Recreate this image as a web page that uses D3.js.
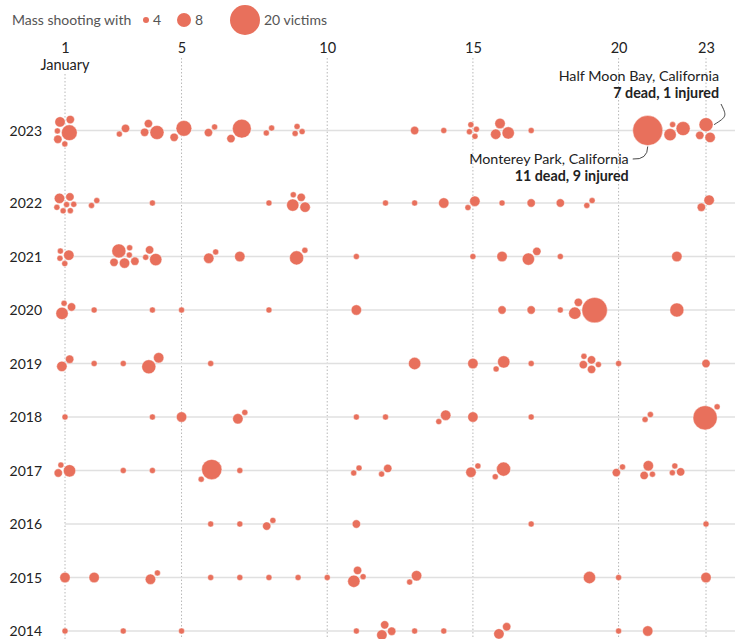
<!DOCTYPE html>
<html>
<head>
<meta charset="utf-8">
<script src="https://cdn.jsdelivr.net/npm/d3@7"></script>
<style>
body { margin: 0; background: #fff; }
svg { display: block; font-family: Lato, "Noto Sans", sans-serif; }
</style>
</head>
<body>
<div class="chart"></div>
<script>
// rows, top to bottom
const years = [2023, 2022, 2021, 2020, 2019, 2018, 2017, 2016, 2015, 2014];
const dayTicks = [1, 5, 10, 15, 20, 23];
const legendValues = [4, 8, 20];

// [day of January, victims]
const shootings2023 = [[1,9],[1,5],[1,4],[1,4],[1,6],[1,5],[3,5],[3,4],[4,8],[4,5],[4,5],[5,9],[5,5],
  [6,4],[6,5],[7,11],[7,5],[8,4],[8,4],[9,4],[9,4],[9,4],[13,5],[14,4],[15,4],[15,4],[15,4],[15,4],
  [16,7],[16,6],[16,6],[17,4],[21,20],[22,8],[22,7],[22,4],[23,6],[23,5],[23,8]];
const shootings2022 = [[1,4],[1,4],[1,5],[1,4],[1,6],[1,4],[1,4],[2,4],[2,4],[4,4],[8,4],[9,5],[9,7],
  [9,4],[9,6],[12,4],[13,4],[14,6],[15,6],[15,4],[16,4],[17,5],[18,5],[19,4],[19,4],[23,6],[23,5]];
const shootings2021 = [[1,6],[1,4],[1,4],[1,4],[3,8],[3,4],[3,4],[3,6],[3,5],[3,5],[4,7],[4,4],[4,5],
  [6,4],[6,6],[7,6],[9,4],[9,8],[11,4],[15,4],[16,6],[17,5],[17,7],[18,4],[22,6]];
const shootings2020 = [[1,5],[1,7],[1,4],[2,4],[4,4],[5,4],[8,4],[11,6],[16,5],[17,5],[18,4],
  [19,16],[19,7],[19,5],[22,8]];
const shootings2019 = [[1,5],[1,6],[2,4],[3,4],[4,6],[4,8],[6,4],[13,7],[15,6],[16,7],[16,4],[17,4],
  [19,4],[19,5],[19,5],[19,5],[19,4],[20,4],[23,5]];
const shootings2018 = [[1,4],[4,4],[5,6],[7,4],[7,6],[11,4],[12,4],[14,6],[14,4],[15,6],[17,4],
  [21,4],[21,4],[23,4],[23,15]];
const shootings2017 = [[1,7],[1,5],[1,4],[3,4],[4,4],[6,12],[6,4],[7,4],[11,4],[11,4],[12,5],[12,4],
  [15,4],[15,6],[16,8],[16,4],[20,4],[20,5],[21,4],[21,5],[21,6],[22,5],[22,4],[22,4]];
const shootings2016 = [[6,4],[7,4],[8,4],[8,5],[11,5],[17,4],[23,4]];
const shootings2015 = [[1,6],[2,6],[4,4],[4,6],[6,4],[7,4],[8,4],[9,4],[10,4],[11,4],[11,7],[11,5],
  [13,6],[13,4],[19,7],[20,4],[23,6]];
const shootings2014 = [[1,4],[3,4],[5,4],[11,4],[12,5],[12,6],[12,5],[13,4],[14,4],[16,5],[16,6],
  [20,4],[21,6]];

const shootingLists = [shootings2023, shootings2022, shootings2021, shootings2020, shootings2019,
  shootings2018, shootings2017, shootings2016, shootings2015, shootings2014];

const width = 752;
const height = 639;
const dotColor = "#e8705c";
const annotationGap = 19; // extra room above 2023 for the notes

const svg = d3.select(".chart")
  .append("svg")
  .attr("width", width)
  .attr("height", height);

const x = d3.scaleLinear().domain([1, 23]).range([65, 706]);
const y = d3.scaleLinear().domain([2022, 2014]).range([203, 631]);
const yRow = yr => y(yr) - (yr === 2023 ? annotationGap : 0);
const r = d3.scaleSqrt().domain([4, 20]).range([3, 15]);

// legend
svg.append("text")
  .attr("x", 12).attr("y", 25)
  .attr("font-size", 14).attr("fill", "#555")
  .text("Mass shooting with");
const legendX = [146, 184, 245];
const legendLabel = ["4", "8", "20 victims"];
legendValues.forEach((v, i) => {
  svg.append("circle")
    .attr("cx", legendX[i]).attr("cy", 20).attr("r", r(v))
    .attr("fill", dotColor);
  svg.append("text")
    .attr("x", legendX[i] + r(v) + 4).attr("y", 25)
    .attr("font-size", 14).attr("fill", "#555")
    .text(legendLabel[i]);
});

// vertical dotted day lines
svg.selectAll(".vline")
  .data(dayTicks)
  .enter()
  .append("line")
  .attr("class", "vline")
  .attr("x1", d => x(d)).attr("x2", d => x(d))
  .attr("y1", d => d === 1 ? 74 : 58)
  .attr("y2", height)
  .attr("stroke", "#b8b8b8")
  .attr("stroke-dasharray", "1.5,2");

// top axis
const xAxis = svg.append("g")
  .attr("transform", "translate(0,53)")
  .call(d3.axisTop(x).tickValues(dayTicks).tickSize(0).tickPadding(0));
xAxis.select(".domain").remove();
xAxis.selectAll("text")
  .attr("font-size", 14.5)
  .attr("font-family", "Lato, 'Noto Sans', sans-serif")
  .attr("fill", "#222");
svg.append("text")
  .attr("x", x(1)).attr("y", 70)
  .attr("text-anchor", "middle")
  .attr("font-size", 14.5).attr("fill", "#222")
  .text("January");

// year rows
svg.selectAll(".hline")
  .data(years)
  .enter()
  .append("line")
  .attr("class", "hline")
  .attr("x1", x(1)).attr("x2", 735)
  .attr("y1", d => yRow(d)).attr("y2", d => yRow(d))
  .attr("stroke", "#e0e0e0")
  .attr("stroke-width", 1.5);

svg.selectAll(".year")
  .data(years)
  .enter()
  .append("text")
  .attr("class", "year")
  .attr("x", 42)
  .attr("y", d => yRow(d) + 5)
  .attr("text-anchor", "end")
  .attr("font-size", 14)
  .attr("fill", "#222")
  .text(d => d);

// nodes
const nodes = [];
years.forEach((yr, k) => {
  shootingLists[k].forEach(([day, victims]) => {
    nodes.push({year: yr, day: day, victims: victims, tx: x(day), ty: yRow(yr), r: r(victims)});
  });
});
d3.groups(nodes, d => d.year + "-" + d.day).forEach(([, g]) => {
  g.forEach((d, i) => {
    const a = i * 2.4;
    d.x = d.tx + 2 * i * Math.cos(a);
    d.y = d.ty + 2 * i * Math.sin(a);
  });
});

const sim = d3.forceSimulation(nodes)
  .force("x", d3.forceX(d => d.tx).strength(0.4))
  .force("y", d3.forceY(d => d.ty).strength(0.4))
  .force("collide", d3.forceCollide(d => d.r + 0.6).iterations(4))
  .stop();
for (let i = 0; i < 300; i++) sim.tick();

svg.selectAll(".dot")
  .data(nodes.slice().sort((a, b) => b.r - a.r))
  .enter()
  .append("circle")
  .attr("class", "dot")
  .attr("cx", d => d.x)
  .attr("cy", d => d.y)
  .attr("r", d => d.r)
  .attr("fill", dotColor)
  .attr("stroke", "#fff")
  .attr("stroke-width", 0.4);

// annotations
const monterey = nodes.find(d => d.year === 2023 && d.day === 21 && d.victims === 20);
const halfMoon = nodes.find(d => d.year === 2023 && d.day === 23 && d.victims === 8);

const noteSize = 14.3;
const noteLead = 17;
const mpX = x(21) - 19, mpY = yRow(2023) + 33.5;
svg.append("text").attr("x", mpX).attr("y", mpY)
  .attr("text-anchor", "end").attr("font-size", noteSize).attr("fill", "#222")
  .text("Monterey Park, California");
svg.append("text").attr("x", mpX).attr("y", mpY + noteLead)
  .attr("text-anchor", "end").attr("font-size", noteSize).attr("font-weight", 700).attr("fill", "#222")
  .text("11 dead, 9 injured");
const p1 = d3.path();
p1.moveTo(mpX + 4, mpY - 5);
p1.quadraticCurveTo(monterey.x, mpY - 4, monterey.x, monterey.y + monterey.r + 1);
svg.append("path").attr("d", p1.toString())
  .attr("fill", "none").attr("stroke", "#333").attr("stroke-width", 0.9);

const hmX = x(23) + 13, hmY = yRow(2023) - 49.5;
svg.append("text").attr("x", hmX).attr("y", hmY)
  .attr("text-anchor", "end").attr("font-size", noteSize).attr("fill", "#222")
  .text("Half Moon Bay, California");
svg.append("text").attr("x", hmX).attr("y", hmY + noteLead)
  .attr("text-anchor", "end").attr("font-size", noteSize).attr("font-weight", 700).attr("fill", "#222")
  .text("7 dead, 1 injured");
const p2 = d3.path();
p2.moveTo(hmX + 2, hmY + 23);
p2.bezierCurveTo(hmX + 8, hmY + 35, hmX + 8, halfMoon.y - 8, halfMoon.x + halfMoon.r + 1, halfMoon.y);
svg.append("path").attr("d", p2.toString())
  .attr("fill", "none").attr("stroke", "#333").attr("stroke-width", 0.9);
</script>
</body>
</html>
